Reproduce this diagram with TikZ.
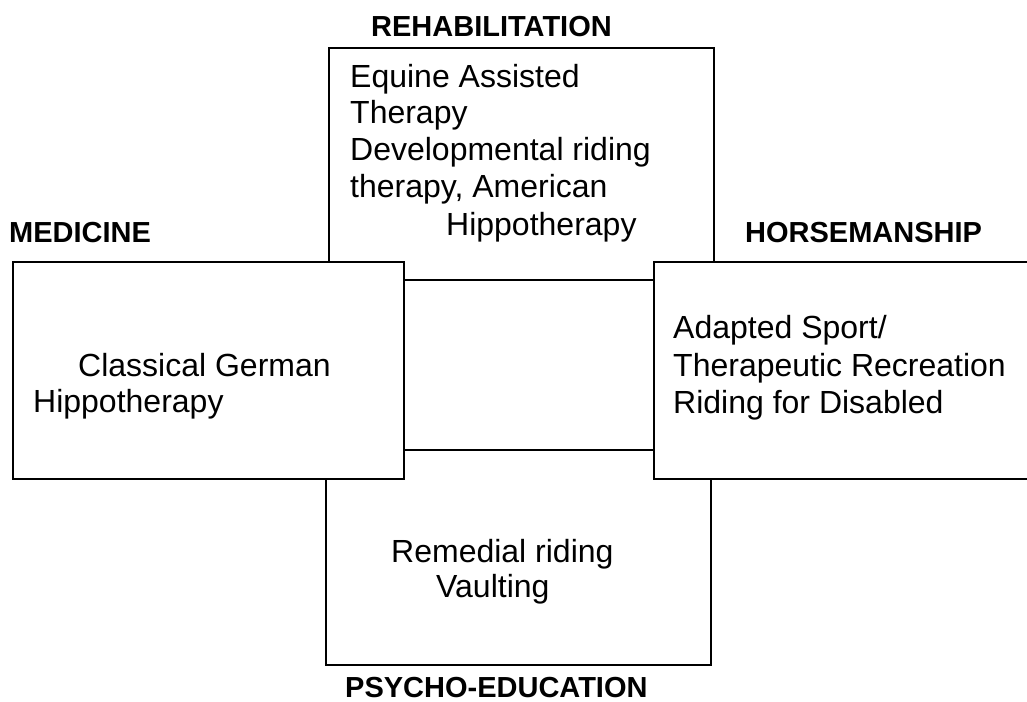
\documentclass[tikz,border=0pt]{standalone}
\usepackage{fontspec}
\setmainfont{Liberation Sans}
\tikzset{
  box/.style={draw=black, line width=1.5pt, fill=white, inner sep=0pt},
  body/.style={font=\fontsize{32}{37}\selectfont, inner sep=0pt, anchor=base west},
  head/.style={font=\fontsize{29}{34}\selectfont\bfseries, inner sep=0pt, anchor=base west},
}
\begin{document}
\begin{tikzpicture}[x=1pt,y=-1pt]
\useasboundingbox (0,0) rectangle (1027,701);
\clip (0,0) rectangle (1027,701);
\fill[white] (0,0) rectangle (1027,701);
% boxes
\node[box, minimum width=385pt, minimum height=232pt] (rehab) at (521.5,164) {};
\node[box, minimum width=385pt, minimum height=215pt] (psych) at (518.5,557.5) {};
\node[box, minimum width=391pt, minimum height=217pt] (med) at (208.5,370.5) {};
\node[box, minimum width=391pt, minimum height=217pt] (horse) at (849.5,370.5) {};
% headings
\node[head] (hrehab) at (371,37) {REHABILITATION};
\node[head] (hmed) at (9,242) {MEDICINE};
\node[head] (hhorse) at (745,242) {HORSEMANSHIP};
\node[head] (hpsych) at (345,697) {PSYCHO-EDUCATION};
% top box text
\node[body] (t1) at (350,87) {Equine Assisted};
\node[body] (t2) at (350,123) {Therapy};
\node[body] (t3) at (350,160) {Developmental riding};
\node[body] (t4) at (350,197) {therapy, American};
\node[body] (t5) at (446,235) {Hippotherapy};
% left box text
\node[body] (l1) at (78,376) {Classical German};
\node[body] (l2) at (33,412) {Hippotherapy};
% right box text
\node[body] (r1) at (673,338) {Adapted Sport/};
\node[body] (r2) at (673,376) {Therapeutic Recreation};
\node[body] (r3) at (673,413) {Riding for Disabled};
% bottom box text
\node[body] (b1) at (391,562) {Remedial riding};
\node[body] (b2) at (436,597) {Vaulting};
\end{tikzpicture}
\end{document}
